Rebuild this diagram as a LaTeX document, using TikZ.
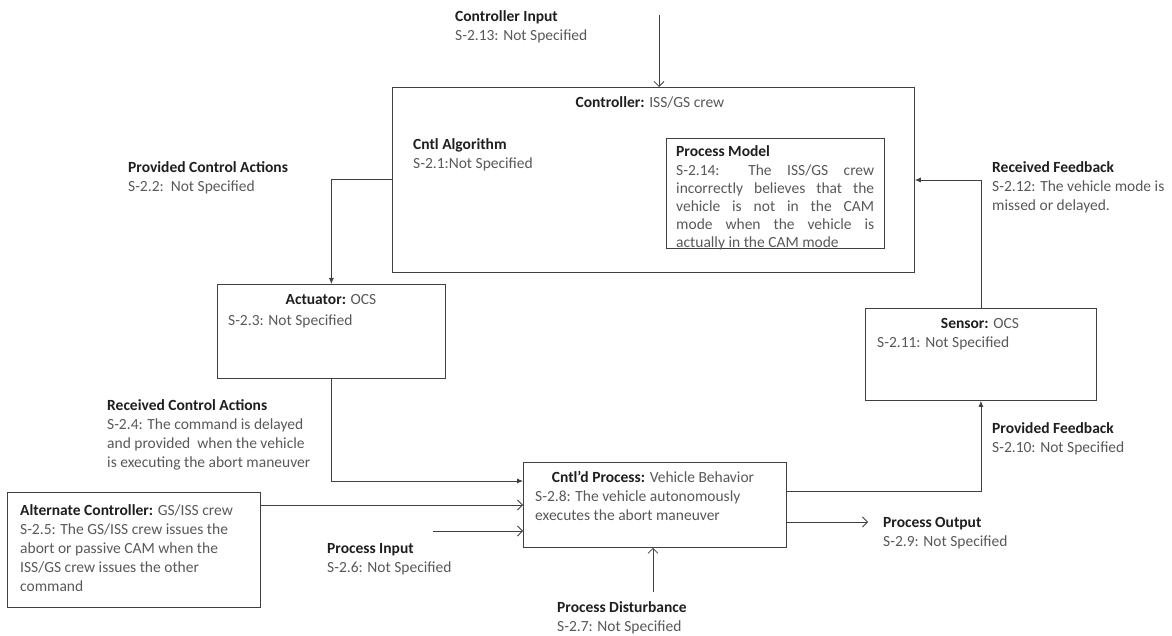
\documentclass[tikz,border=0pt]{standalone}
\usepackage{fontspec}
\setmainfont{Carlito}
\usetikzlibrary{arrows.meta}
\definecolor{linecol}{gray}{0.25}
\definecolor{bodycol}{gray}{0.35}
\definecolor{headcol}{gray}{0.12}
\newcommand\hd[1]{{\bfseries\color{headcol}#1}}
% stacked lines whose baseline is the first line
\newcommand\stack[1]{\begin{tabular}[t]{@{}l@{}}#1\end{tabular}}
\begin{document}
\begin{tikzpicture}[x=1pt,y=-1pt,
  every node/.style={font=\fontsize{15.5}{19}\selectfont, text=bodycol},
  box/.style={draw=linecol, line width=0.8pt, inner sep=0pt, anchor=north west},
  label/.style={anchor=base west, inner sep=0pt},
  ctitle/.style={anchor=base, inner sep=0pt},
  flow/.style={draw=linecol, line width=0.8pt, -{Latex[length=6pt,width=5pt]}},
  feed/.style={draw=linecol, line width=0.8pt, -{Straight Barb[length=5pt,width=10pt]}}
]
\useasboundingbox[fill=white] (0,0) rectangle (1172,636);

% boxes
\node[box, minimum width=522pt, minimum height=185pt] (ctrl) at (392,87) {};
\node[box, minimum width=218pt, minimum height=110pt] (pm) at (666,138) {};
\node[box, minimum width=228pt, minimum height=94pt] (act) at (217,284) {};
\node[box, minimum width=231pt, minimum height=92pt] (sens) at (865,308) {};
\node[box, minimum width=253pt, minimum height=115pt] (alt) at (7,492) {};
\node[box, minimum width=263pt, minimum height=85pt] (proc) at (523,462) {};

% texts inside boxes
\node[ctitle] (ctrlT) at (650,108) {\hd{Controller:} ISS/GS crew};
\node[label] (algT) at (413,150) {\stack{\hd{Cntl Algorithm}\\S-2.1:Not Specified}};
\node[label, font=\fontsize{15.5}{18.2}\selectfont] (pmT) at (676,157) {\stack{\hd{Process Model}\\
  \makebox[198pt][s]{S-2.14: The ISS/GS crew}\\
  \makebox[198pt][s]{incorrectly believes that the}\\
  \makebox[198pt][s]{vehicle is not in the CAM}\\
  \makebox[198pt][s]{mode when the vehicle is}\\
  actually in the CAM mode}};
\node[ctitle] (actT) at (331,305) {\hd{Actuator:} OCS};
\node[label] (actS) at (228,325) {S-2.3: Not Specified};
\node[ctitle] (sensT) at (980,328) {\hd{Sensor:} OCS};
\node[label] (sensS) at (877,347) {S-2.11: Not Specified};
\node[label] (altT) at (20,515) {\stack{\hd{Alternate Controller:} GS/ISS crew\\
  S-2.5: The GS/ISS crew issues the\\
  abort or passive CAM when the\\
  ISS/GS crew issues the other\\
  command}};
\node[ctitle] (procT) at (653,482) {\hd{Cntl'd Process:} Vehicle Behavior};
\node[label] (procS) at (535,501) {\stack{S-2.8: The vehicle autonomously\\executes the abort maneuver}};

% free labels
\node[label] (cinL) at (455,22) {\stack{\hd{Controller Input}\\S-2.13: Not Specified}};
\node[label] (pcaL) at (128,173) {\stack{\hd{Provided Control Actions}\\S-2.2:\ \ Not Specified}};
\node[label] (rcaL) at (107,410) {\stack{\hd{Received Control Actions}\\
  S-2.4: The command is delayed\\
  and provided\ \ when the vehicle\\
  is executing the abort maneuver}};
\node[label] (rfbL) at (992,173) {\stack{\hd{Received Feedback}\\S-2.12: The vehicle mode is\\missed or delayed.}};
\node[label] (pfbL) at (992,433) {\stack{\hd{Provided Feedback}\\S-2.10: Not Specified}};
\node[label] (pinL) at (327,553) {\stack{\hd{Process Input}\\S-2.6: Not Specified}};
\node[label] (pdL) at (557,612) {\stack{\hd{Process Disturbance}\\S-2.7: Not Specified}};
\node[label] (poL) at (883,527) {\stack{\hd{Process Output}\\S-2.9: Not Specified}};

% free ends of connectors
\coordinate (cin) at (659,15);
\coordinate (pin) at (433,531);
\coordinate (pdist) at (653,592);
\coordinate (pout) at (868,522);

% connectors
\draw[feed] (cin) -- (cin |- ctrl.north);
\draw[flow] (ctrl.west |- 0,179) -| (act.north);
\draw[flow] (act.south) |- (proc.west |- 0,481);
\draw[feed] (alt.east |- 0,505) -- (proc.west |- 0,505);
\draw[feed] (pin) -- (proc.west |- pin);
\draw[feed] (pdist) -- (pdist |- proc.south);
\draw[feed] (proc.east |- pout) -- (pout);
\draw[flow] (proc.east |- 0,491) -| (sens.south);
\draw[flow] (sens.north) |- (ctrl.east |- 0,180);
\end{tikzpicture}
\end{document}
